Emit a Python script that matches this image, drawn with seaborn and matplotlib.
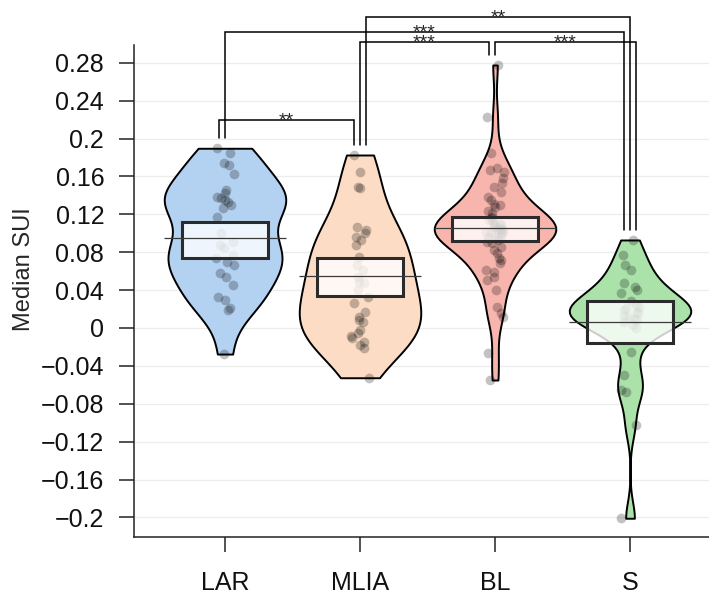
import numpy as np
import pandas as pd
import matplotlib
matplotlib.use("Agg")
import matplotlib.pyplot as plt
import seaborn as sns

# ---- data -------------------------------------------------------------
groups = ["LAR", "MLIA", "BL", "S"]

lar = [0.1897, 0.185, 0.1738, 0.172, 0.163, 0.1456, 0.142, 0.1386, 0.1369,
       0.135, 0.1333, 0.1298, 0.1263, 0.1175, 0.0999, 0.0911, 0.0876, 0.0841,
       0.077, 0.0736, 0.070, 0.0665, 0.0577, 0.0541, 0.0454, 0.033, 0.0296,
       0.0208, 0.019, -0.0275]
mlia = [0.1826, 0.165, 0.149, 0.1474, 0.1069, 0.1034, 0.0999, 0.0964, 0.0929,
        0.0876, 0.0753, 0.0665, 0.0612, 0.0541, 0.0489, 0.0471, 0.0401, 0.033,
        0.026, 0.0172, 0.012, 0.0084, 0.0067, -0.0021, -0.0056, -0.008,
        -0.0109, -0.0145, -0.018, -0.0214, -0.0525]
bl = [0.2776, 0.223, 0.1844, 0.1685, 0.1668, 0.165, 0.158, 0.1527, 0.149,
      0.1439, 0.1386, 0.1351, 0.131, 0.1298, 0.128, 0.124, 0.121, 0.1175,
      0.116, 0.114, 0.112, 0.1105, 0.110, 0.109, 0.108, 0.1069, 0.106, 0.104,
      0.104, 0.1034, 0.102, 0.1016, 0.100, 0.0999, 0.098, 0.097, 0.0964,
      0.095, 0.093, 0.0911, 0.0894, 0.085, 0.0823, 0.0788, 0.0736, 0.0718,
      0.0683, 0.0612, 0.0594, 0.0541, 0.0507, 0.0401, 0.0225, 0.0155, 0.0119,
      -0.0267, -0.0549]
s = [0.0929, 0.077, 0.0665, 0.0612, 0.0471, 0.0436, 0.0401, 0.0366, 0.028,
     0.0243, 0.022, 0.0208, 0.019, 0.0172, 0.016, 0.013, 0.0119, 0.010,
     0.0084, 0.006, 0.003, -0.0003, -0.025, -0.0496, -0.0654, -0.0672,
     -0.1024, -0.2008]

# group means and inference bands
means = [0.0947, 0.0552, 0.1052, 0.0060]
band_low = [0.0736, 0.0341, 0.0918, -0.0162]
band_high = [0.1122, 0.0736, 0.1175, 0.0285]

# kernel bandwidth factor for each group's density
bandwidth = {"LAR": 0.8, "MLIA": 1.0, "BL": 0.75, "S": 0.55}

# pairwise comparisons: (group a, group b, bracket height, label)
comparisons = [
    ("MLIA", "S", 0.3285, "**"),
    ("LAR", "S", 0.3121, "***"),
    ("MLIA", "BL", 0.3015, "***"),
    ("BL", "S", 0.3015, "***"),
    ("LAR", "MLIA", 0.2195, "**"),
]

yticks = [0.28, 0.24, 0.2, 0.16, 0.12, 0.08, 0.04, 0, -0.04, -0.08, -0.12,
          -0.16, -0.2]
ytick_labels = ["0.28", "0.24", "0.2", "0.16", "0.12", "0.08", "0.04", "0",
                "\u22120.04", "\u22120.08", "\u22120.12", "\u22120.16",
                "\u22120.2"]

colors = {"LAR": "#b3d1f1", "MLIA": "#fcdcc5", "BL": "#f8b5ae",
          "S": "#aae2aa"}

df = pd.DataFrame({
    "group": ["LAR"] * len(lar) + ["MLIA"] * len(mlia) + ["BL"] * len(bl)
             + ["S"] * len(s),
    "value": lar + mlia + bl + s,
})

# ---- figure -----------------------------------------------------------
sns.set_style("white")
plt.rcParams["font.family"] = ["Liberation Sans", "DejaVu Sans"]
np.random.seed(7)

fig = plt.figure(figsize=(7.09, 6.01), dpi=100)
ax = fig.add_axes([134 / 709, 1 - 537 / 601, 575 / 709, 492 / 601])

# light horizontal guide lines
for yt in yticks:
    ax.axhline(yt, color="#ececec", lw=0.9, zorder=0)

# one bean per group so each gets its own bandwidth
for g in groups:
    sns.violinplot(data=df[df.group == g], x="group", y="value", order=groups,
                   color=colors[g], inner=None, cut=0, density_norm="width",
                   width=0.9, bw_adjust=bandwidth[g], linewidth=1.4,
                   linecolor="black", saturation=1, ax=ax, zorder=1)

sns.stripplot(data=df, x="group", y="value", order=groups, color="black",
              alpha=0.24, size=7, jitter=0.07, linewidth=0, ax=ax, zorder=2)

pos = np.arange(len(groups))
heights = np.array(band_high) - np.array(band_low)
ax.bar(pos, heights, bottom=band_low, width=0.635, color="white", alpha=0.8,
       edgecolor="none", zorder=3)
ax.bar(pos, heights, bottom=band_low, width=0.635, fill=False,
       edgecolor="#2b2b2b", linewidth=2.2, zorder=4)
ax.hlines(means, pos - 0.45, pos + 0.45, color="#3a3a3a", lw=0.9, zorder=5)

# significance brackets; legs sharing a group sit side by side
group_max = {g: df.loc[df.group == g, "value"].max() for g in groups}
leg_step = 0.0443
leg_slots = {}
for a, b, _, _ in comparisons:
    leg_slots.setdefault(a, []).append((groups.index(b), (a, b)))
    leg_slots.setdefault(b, []).append((groups.index(a), (a, b)))
leg_x = {}
for g, items in leg_slots.items():
    items.sort()
    for k, (_, key) in enumerate(items):
        leg_x[(g, key)] = groups.index(g) + (k - 1) * leg_step

for a, b, h, lab in comparisons:
    xa = leg_x[(a, (a, b))]
    xb = leg_x[(b, (a, b))]
    ya = group_max[a] + 0.011
    yb = group_max[b] + 0.011
    ax.plot([xa, xa, xb, xb], [ya, h, h, yb], color="black", lw=1.1,
            clip_on=False, zorder=6, solid_joinstyle="miter")
    ax.text((xa + xb) / 2, h - 0.0055, lab, ha="center", va="baseline",
            fontsize=14, clip_on=False)

ax.set_xlim(-0.674, 3.585)
ax.set_ylim(-0.2206, 0.2987)
ax.set_yticks(yticks)
ax.set_yticklabels(ytick_labels)
ax.set_xticks(pos)
ax.set_xticklabels(groups)
ax.set_xlabel("")
ax.set_ylabel("Median SUI", fontsize=17)
ax.yaxis.set_label_coords(-0.172, 0.545)
ax.tick_params(axis="both", labelsize=18, length=10.5, width=1.1,
               direction="out", color="#222222", labelcolor="#111111")
ax.tick_params(axis="x", pad=14)
ax.tick_params(axis="y", pad=11)
ax.tick_params(left=True, bottom=True)
for side in ("top", "right"):
    ax.spines[side].set_visible(False)
for side in ("left", "bottom"):
    ax.spines[side].set_linewidth(1.1)
    ax.spines[side].set_color("#222222")

fig.savefig("out.png", dpi=100)
